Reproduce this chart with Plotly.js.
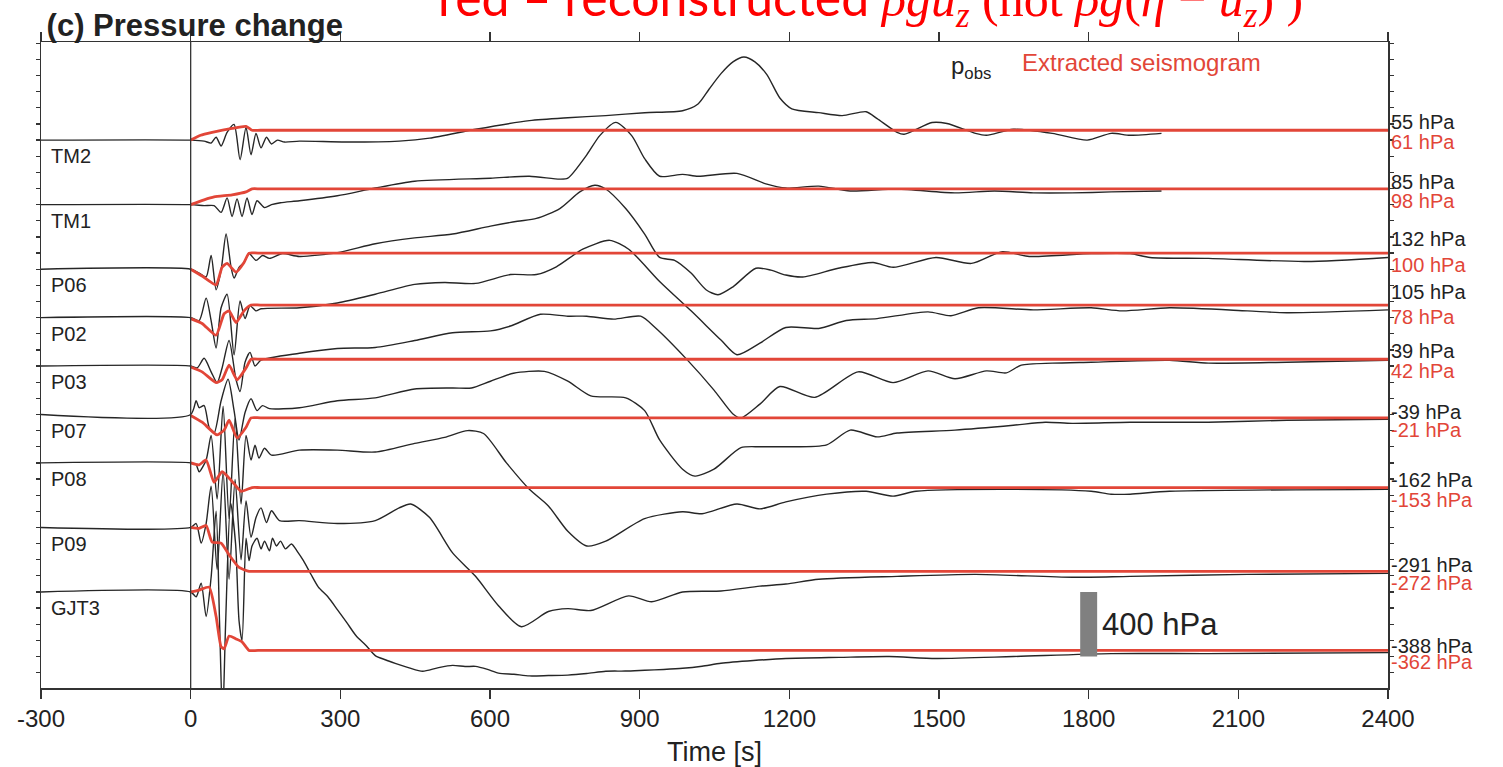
<!DOCTYPE html>
<html>
<head>
<meta charset="utf-8">
<script src="https://cdn.plot.ly/plotly-3.0.1.min.js"></script>
<style>html,body{margin:0;padding:0;background:#fff;}#chart{width:1503px;height:767px;}</style>
</head>
<body>
<div id="chart"></div>
<script>
// ---------------- data ----------------
const stations = ['TM2','TM1','P06','P02','P03','P07','P08','P09','GJT3'];
// stacking offset of each record (hPa)
const offsets = [2800,2400,2000,1700,1400,1100,800,400,0];
// final-level labels (hPa)
const pobsLabel = [55,85,132,105,39,-39,-162,-291,-388];
const extrLabel = [61,98,100,78,42,-21,-153,-272,-362];
const xTicks = [-300,0,300,600,900,1200,1500,1800,2100,2400];

// observed pressure p_obs (time s, pressure change hPa)
const obsTM2_t = [-300,0,27,41,51,61,73,87,99,111,121,131,141,152,162,174,188,218,310,418,479,571,679,756,832,910,986,1017,1039,1063,1087,1109,1131,1155,1181,1205,1259,1306,1354,1376,1416,1430,1486,1516,1573,1595,1649,1727,1797,1845,1883,1946];
const obsTM2_p = [0,0,-6,-18,18,-36,48,97,-121,79,-91,42,-48,18,-24,0,-12,-6,-12,-6,12,67,121,139,152,170,182,224,315,412,485,515,485,406,261,194,170,152,176,133,48,36,109,103,42,30,67,42,0,42,30,42];

const obsTM1_t = [-300,0,27,47,61,73,83,93,103,113,123,133,148,162,180,218,294,370,449,601,679,740,756,794,820,852,884,910,940,986,1017,1095,1155,1193,1259,1322,1416,1532,1611,1689,1767,1845,1946];
const obsTM1_p = [0,0,-6,-6,-48,42,-73,36,-73,42,-61,24,-18,0,12,24,55,103,145,164,176,158,164,309,428,510,428,285,176,188,176,194,127,103,115,85,97,73,85,73,73,79,85];

const obsP06_t = [-300,0,17,31,41,51,61,71,81,87,97,107,117,131,144,158,184,218,294,370,449,525,601,655,693,740,780,810,832,872,910,940,970,1003,1033,1057,1087,1133,1163,1193,1227,1298,1368,1408,1494,1565,1627,1681,1805,1883,1923,2040,2235,2400];
const obsP06_p = [0,0,-24,-48,85,-127,-6,218,12,-55,12,42,97,55,85,67,97,79,103,158,194,218,267,297,315,376,479,520,497,376,218,73,55,-24,-127,-158,-109,6,-6,-36,-48,6,42,12,73,36,109,79,97,97,73,67,48,73];

const obsP02_t = [-300,0,17,31,41,51,61,73,87,99,109,119,131,141,218,294,370,449,509,571,641,693,733,786,840,878,940,1003,1063,1095,1141,1193,1259,1314,1376,1478,1524,1579,1689,1805,1867,1962,2118,2197,2400];
const obsP02_p = [0,0,-18,121,-18,-188,61,145,-230,103,-6,73,42,55,61,91,145,206,218,212,267,267,315,424,479,424,224,42,-139,-230,-158,-61,-67,-18,-6,36,12,61,48,61,42,61,42,30,48];

const obsP03_t = [-300,0,13,27,41,53,63,77,91,99,109,119,129,141,218,294,370,449,525,601,641,701,756,794,848,902,932,994,1049,1087,1103,1141,1181,1251,1338,1408,1478,1532,1595,1635,1665,1727,1805,1962,2040,2197,2400];
const obsP03_p = [0,0,-12,48,-36,-103,-12,158,-85,-158,24,85,0,36,79,109,115,158,206,218,248,321,309,309,291,309,236,43,-149,-297,-322,-236,-127,-194,-36,-103,-30,-79,-30,-42,6,18,24,36,18,24,36];

const obsP07_t = [-300,0,11,17,27,37,47,61,75,87,97,109,121,133,144,158,218,294,370,449,525,563,601,647,709,756,802,872,910,940,986,1011,1049,1103,1141,1193,1275,1322,1376,1416,1532,1649,1713,1767,1883,2040,2197,2400];
const obsP07_p = [0,0,85,42,55,-79,-115,85,218,24,-158,12,97,24,55,36,42,85,103,158,164,164,206,255,267,206,115,103,24,-158,-339,-382,-339,-206,-200,-200,-188,-97,-139,-115,-97,-67,-48,-55,-48,-48,-36,-30];

const obsP08_t = [-300,0,11,17,31,41,53,65,77,89,101,111,121,129,137,148,162,218,294,370,449,509,555,587,633,679,717,756,794,832,910,986,1025,1095,1141,1193,1275,1354,1408,1454,1649,1805,1845,1883,1962,2400];
const obsP08_p = [0,0,-12,-55,18,170,-224,351,-345,273,-255,170,18,109,30,91,48,79,79,67,121,158,200,182,0,-164,-267,-424,-515,-485,-345,-303,-315,-255,-285,-242,-194,-176,-206,-176,-164,-176,-194,-194,-176,-164];

const obsP09_t = [-300,0,11,21,31,41,53,65,77,89,101,111,121,131,141,152,162,178,218,294,370,418,441,479,525,571,617,663,717,756,802,878,924,986,1063,1141,1193,1259,1416,1573,1767,1883,2118,2400];
const obsP09_p = [0,0,24,-97,24,255,-261,345,-321,297,-200,164,-61,61,121,30,103,42,42,24,42,121,145,61,-158,-303,-485,-615,-521,-503,-515,-424,-461,-400,-394,-364,-351,-321,-303,-291,-309,-303,-291,-285];

const obsGJT3_t = [-300,0,11,21,31,41,51,58,64,70,80,90,97,103,111,117,123,133,141,148,158,164,172,180,190,202,214,226,241,256,275,294,313,332,351,370,390,410,438,465,495,525,550,571,595,617,648,679,717,756,794,832,871,910,948,986,1025,1063,1128,1193,1300,1400,1494,1649,1845,2040,2400];
const obsGJT3_p = [0,0,-30,55,-152,91,500,-200,-800,-200,550,300,-180,-300,333,194,285,333,267,315,255,333,285,315,267,297,250,194,110,30,-30,-109,-190,-273,-330,-394,-420,-442,-470,-491,-470,-455,-462,-461,-480,-503,-510,-520,-518,-515,-505,-491,-490,-485,-480,-473,-460,-442,-425,-412,-405,-400,-412,-400,-382,-382,-376];

// extracted seismogram (time s, hPa)
const extTM2_t = [0,20,43,83,111,123,140,2400];
const extTM2_p = [0,30,48,73,85,61,61,61];
const extTM1_t = [0,27,47,83,111,123,140,2400];
const extTM1_p = [0,30,48,61,79,98,98,98];
const extP06_t = [0,23,51,63,73,91,107,117,135,2400];
const extP06_p = [0,-42,-97,12,36,-18,42,100,100,100];
const extP02_t = [0,23,51,67,77,91,107,121,140,2400];
const extP02_p = [-6,-36,-109,24,42,-30,42,78,78,78];
const extP03_t = [0,23,51,63,77,93,111,121,140,2400];
const extP03_p = [-6,-36,-103,-85,6,-85,-12,42,42,42];
const extP07_t = [0,23,53,67,77,93,111,121,140,2400];
const extP07_p = [-6,-48,-127,-97,-36,-145,-79,-21,-21,-21];
const extP08_t = [0,17,31,47,63,83,101,123,140,2400];
const extP08_p = [0,-12,18,-121,-55,-115,-176,-153,-153,-153];
const extP09_t = [0,17,31,43,61,77,97,117,135,2400];
const extP09_p = [0,-6,12,-91,-97,-170,-248,-272,-272,-272];
const extGJT3_t = [0,17,37,51,61,67,77,91,103,117,135,2400];
const extGJT3_p = [0,12,30,-152,-340,-352,-273,-291,-309,-362,-362,-362];

// ---------------- build ----------------
const obsT = [obsTM2_t,obsTM1_t,obsP06_t,obsP02_t,obsP03_t,obsP07_t,obsP08_t,obsP09_t,obsGJT3_t];
const obsP = [obsTM2_p,obsTM1_p,obsP06_p,obsP02_p,obsP03_p,obsP07_p,obsP08_p,obsP09_p,obsGJT3_p];
const extT = [extTM2_t,extTM1_t,extP06_t,extP02_t,extP03_t,extP07_t,extP08_t,extP09_t,extGJT3_t];
const extP = [extTM2_p,extTM1_p,extP06_p,extP02_p,extP03_p,extP07_p,extP08_p,extP09_p,extGJT3_p];

const BLACK = '#262626';
const RED = 'rgb(226,70,56)';
const SANS = 'Liberation Sans, Arial, Helvetica, sans-serif';

const traces = [];
stations.forEach((s,i)=>{
  traces.push({type:'scatter',mode:'lines',name:s+' p_obs',x:obsT[i],y:obsP[i].map(v=>v+offsets[i]),
    line:{color:BLACK,width:1.4,shape:'spline',smoothing:0.7},hoverinfo:'skip',showlegend:false});
});
stations.forEach((s,i)=>{
  traces.push({type:'scatter',mode:'lines',name:s+' extracted',x:extT[i],y:extP[i].map(v=>v+offsets[i]),
    line:{color:RED,width:2.8,shape:'spline',smoothing:0.5},hoverinfo:'skip',showlegend:false});
});

const annotations = [];
stations.forEach((s,i)=>{
  annotations.push({xref:'x',yref:'y',x:-284,y:offsets[i]-100,xanchor:'left',yanchor:'middle',showarrow:false,
    text:s,font:{family:SANS,size:20,color:'#222'}});
  annotations.push({xref:'paper',yref:'y',x:1,xshift:2,y:offsets[i]+pobsLabel[i],yshift:9,xanchor:'left',yanchor:'middle',showarrow:false,borderpad:0,
    text:pobsLabel[i]+' hPa',font:{family:SANS,size:20,color:'#222'}});
  annotations.push({xref:'paper',yref:'y',x:1,xshift:2,y:offsets[i]+extrLabel[i],yshift:-12,xanchor:'left',yanchor:'middle',showarrow:false,borderpad:0,
    text:extrLabel[i]+' hPa',font:{family:SANS,size:20,color:RED}});
});
// legend text
annotations.push({xref:'x',yref:'y',x:1520,y:3250,xanchor:'left',yanchor:'middle',showarrow:false,
  text:'p<sub>obs</sub>',font:{family:SANS,size:24,color:'#222'}});
annotations.push({xref:'x',yref:'y',x:1662,y:3278,xanchor:'left',yanchor:'middle',showarrow:false,
  text:'Extracted seismogram',font:{family:SANS,size:24,color:RED}});
// scale bar text
annotations.push({xref:'x',yref:'y',x:1822,y:-200,xanchor:'left',yanchor:'middle',showarrow:false,
  text:'400 hPa',font:{family:SANS,size:31,color:'#222'}});
// red note at the top (partly outside the figure)
annotations.push({xref:'paper',yref:'paper',x:0.293,y:1,yshift:41,xanchor:'left',yanchor:'middle',showarrow:false,
  text:'red – reconstructed <span style="font-family:Liberation Serif"><i>ρgu</i><sub><i>z</i></sub> (not <i>ρg</i>(<i>η</i> − <i>u</i><sub><i>z</i></sub>) )</span>',
  font:{family:'Lato, Liberation Sans, sans-serif',size:50,color:'#ff0000'}});

const layout = {
  width:1503,height:767,
  margin:{l:41,r:115,t:42,b:79},
  paper_bgcolor:'#fff',plot_bgcolor:'#fff',
  showlegend:false,hovermode:false,
  title:{text:'<b>(c) Pressure change</b>',xref:'container',yref:'container',x:0.031,xanchor:'left',y:0.967,yanchor:'middle',
    font:{family:SANS,size:31,color:'#222'}},
  xaxis:{range:[-300,2400],tickmode:'array',tickvals:xTicks,ticktext:xTicks.map(String),
    ticks:'outside',ticklen:9,tickwidth:1.5,tickcolor:'#333',showline:true,linecolor:'#333',linewidth:1.5,mirror:'ticks',
    showgrid:false,zeroline:false,tickfont:{family:SANS,size:24,color:'#222'},
    title:{text:'Time [s]',font:{family:SANS,size:27,color:'#222'},standoff:12}},
  yaxis:{range:[-595,3408],tick0:0,dtick:100,ticks:'outside',ticklen:4,tickwidth:1.3,tickcolor:'#333',
    showticklabels:false,showline:true,linecolor:'#333',linewidth:1.5,mirror:'ticks',showgrid:false,zeroline:false},
  shapes:[
    {type:'line',xref:'x',yref:'paper',x0:0,x1:0,y0:0,y1:1,line:{color:'#333',width:1.3}},
    {type:'rect',xref:'x',yref:'y',x0:1783,x1:1817,y0:-400,y1:0,fillcolor:'#808080',line:{width:0}}
  ],
  annotations:annotations
};

Plotly.newPlot('chart',traces,layout,{staticPlot:true,displayModeBar:false});
</script>
</body>
</html>
